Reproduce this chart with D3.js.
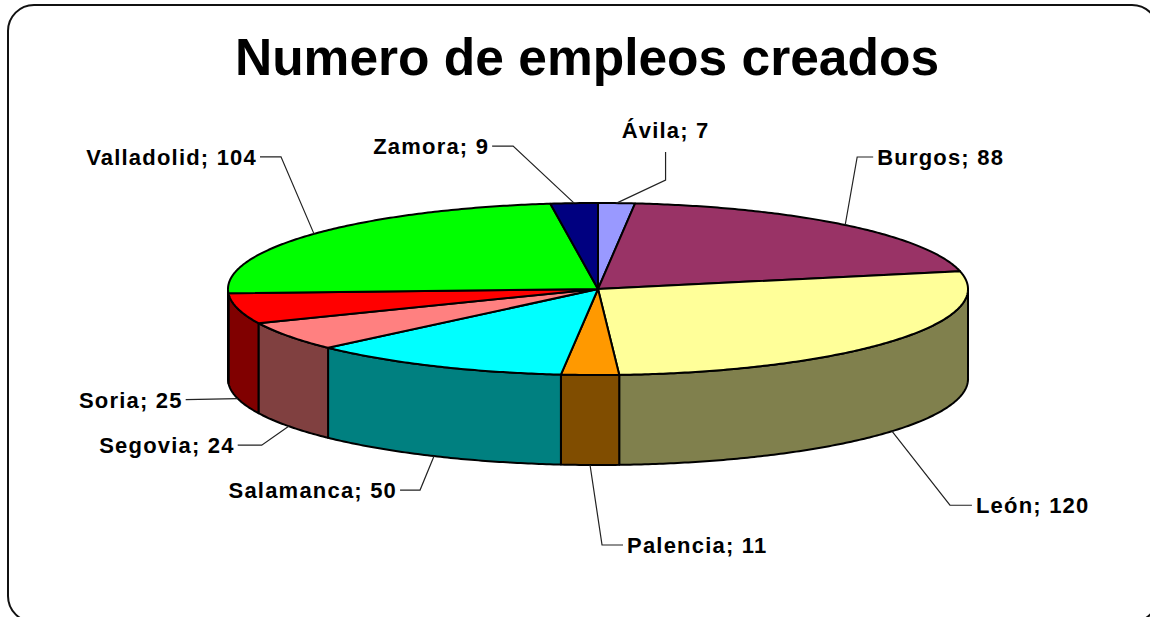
<!DOCTYPE html>
<html>
<head>
<meta charset="utf-8">
<script src="https://cdn.jsdelivr.net/npm/d3@7"></script>
<style>
  html, body { margin: 0; padding: 0; background: #fff; }
  svg { display: block; }
  text { font-family: Arial, "Liberation Sans", sans-serif; font-weight: bold; fill: #000; }
</style>
</head>
<body>
<svg id="chart" width="1150" height="617"></svg>
<script>
// Empleos creados por provincia
const provinces = ["Ávila", "Burgos", "León", "Palencia", "Salamanca", "Segovia", "Soria", "Valladolid", "Zamora"];
const jobs      = [7, 88, 120, 11, 50, 24, 25, 104, 9];
const topColors = ["#9999FF", "#993366", "#FFFF99", "#FF9900", "#00FFFF", "#FF8080", "#FF0000", "#00FF00", "#000080"];

// Leader line geometry per label: elbow offset from the slice anchor, then the final run
const leaderElbow = [[49, -23], [12, -68], [58, 74], [12, 80], [-14, 34], [-27, 19], [-52, 1], [-33, -77], [-61, -57]];
const leaderRun   = [[0, -28], [16, 0], [22, 0], [21, 0], [-20, 0], [-24, 0], [0, 0], [-21, 0], [-21, 0]];

const svg = d3.select("#chart");

// frame
svg.append("rect")
  .attr("x", 8).attr("y", 5).attr("width", 1150).attr("height", 617)
  .attr("rx", 26).attr("ry", 26)
  .attr("fill", "#fff").attr("stroke", "#111").attr("stroke-width", 2);

// title
svg.append("text")
  .attr("x", 587).attr("y", 75)
  .attr("text-anchor", "middle")
  .style("font-size", "51.5px")
  .text("Numero de empleos creados");

// 3D pie geometry
const cx = 598, cy = 289, rx = 370, ry = 86, depth = 90;
const sx = d3.scaleLinear().domain([-1, 1]).range([cx - rx, cx + rx]);
const sy = d3.scaleLinear().domain([-1, 1]).range([cy - ry, cy + ry]);
const proj = (a, dz = 0) => [sx(Math.sin(a)), sy(-Math.cos(a)) + dz];

const pie = d3.pie().sort(null).value(d => d).startAngle(0).endAngle(2 * Math.PI);
const arcs = pie(jobs);

const line = d3.line();
const sampleAngles = (a0, a1) => {
  const n = Math.max(2, Math.ceil((a1 - a0) / 0.01));
  return d3.range(n + 1).map(i => a0 + (a1 - a0) * i / n);
};

const sideColor = c => {
  const k = d3.rgb(c);
  return d3.rgb(k.r * 0.5, k.g * 0.5, k.b * 0.5).formatHex();
};

// side walls (front half only)
const gSide = svg.append("g");
arcs.forEach((d, i) => {
  const a0 = Math.max(d.startAngle, Math.PI / 2);
  const a1 = Math.min(d.endAngle, 3 * Math.PI / 2);
  if (a1 <= a0) return;
  const angs = sampleAngles(a0, a1);
  const pts = angs.map(a => proj(a)).concat(angs.slice().reverse().map(a => proj(a, depth)));
  gSide.append("path")
    .attr("d", line(pts) + "Z")
    .attr("fill", sideColor(topColors[i]))
    .attr("stroke", "#000").attr("stroke-width", 2).attr("stroke-linejoin", "round");
});

// top faces
const gTop = svg.append("g");
arcs.forEach((d, i) => {
  const angs = sampleAngles(d.startAngle, d.endAngle);
  const pts = [[cx, cy]].concat(angs.map(a => proj(a)));
  gTop.append("path")
    .attr("d", line(pts) + "Z")
    .attr("fill", topColors[i])
    .attr("stroke", "#000").attr("stroke-width", 2).attr("stroke-linejoin", "round");
});

// labels with leader lines
const gLab = svg.append("g");
arcs.forEach((d, i) => {
  const mid = (d.startAngle + d.endAngle) / 2;
  const front = Math.cos(mid) < 0;
  const anchor = proj(mid, front ? depth : 0);
  const elbow = [anchor[0] + leaderElbow[i][0], anchor[1] + leaderElbow[i][1]];
  const end = [elbow[0] + leaderRun[i][0], elbow[1] + leaderRun[i][1]];
  gLab.append("path")
    .attr("d", line([anchor, elbow, end]))
    .attr("fill", "none").attr("stroke", "#222").attr("stroke-width", 1.2);

  const label = provinces[i] + "; " + jobs[i];
  const t = gLab.append("text")
    .style("font-size", "22px")
    .style("letter-spacing", "1.2px")
    .text(label);
  if (leaderRun[i][1] < 0) {
    // vertical run upwards: label centred above
    t.attr("x", end[0]).attr("y", end[1] - 14).attr("text-anchor", "middle");
  } else if (end[0] >= anchor[0]) {
    t.attr("x", end[0] + 4).attr("y", end[1] + 8).attr("text-anchor", "start");
  } else {
    t.attr("x", end[0] - 3).attr("y", end[1] + 8).attr("text-anchor", "end");
  }
});
</script>
</body>
</html>
